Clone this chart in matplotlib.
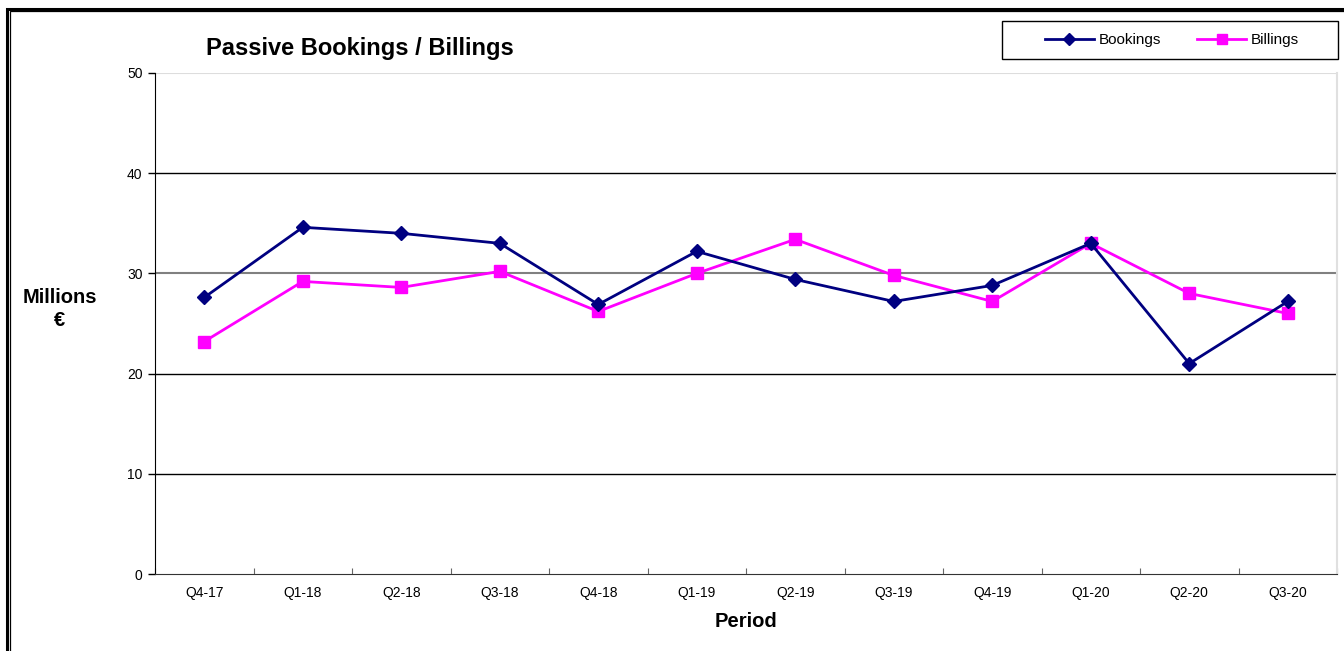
import matplotlib
matplotlib.use("Agg")
import matplotlib.pyplot as plt
from matplotlib.patches import Rectangle
from matplotlib.lines import Line2D

plt.rcParams["font.family"] = ["Liberation Sans", "DejaVu Sans"]

periods = ["Q4-17", "Q1-18", "Q2-18", "Q3-18", "Q4-18", "Q1-19",
           "Q2-19", "Q3-19", "Q4-19", "Q1-20", "Q2-20", "Q3-20"]
bookings = [27.6, 34.6, 34.0, 33.0, 26.9, 32.2, 29.4, 27.2, 28.8, 33.0, 21.0, 27.2]
billings = [23.2, 29.2, 28.6, 30.2, 26.2, 30.0, 33.4, 29.8, 27.2, 33.0, 28.0, 26.0]

NAVY = "#000080"
PINK = "#FF00FF"

W, H = 1344, 651
fig = plt.figure(figsize=(W / 100, H / 100), dpi=100)

# double frame round the chart area (runs off right/bottom edge)
fig.patches.append(Rectangle((6.5 / W, -0.05), 1.2, (H - 8.5) / H + 0.05,
                             transform=fig.transFigure, fill=False,
                             edgecolor="black", linewidth=2.2))
fig.patches.append(Rectangle((10 / W, -0.05), 1.2, (H - 11.5) / H + 0.05,
                             transform=fig.transFigure, fill=False,
                             edgecolor="black", linewidth=0.9))

ax = fig.add_axes([155 / W, 77 / H, (1337 - 155) / W, (574 - 73) / H])

x = list(range(len(periods)))
ax.plot(x, bookings, color=NAVY, lw=2, marker="D", ms=7.5, zorder=4, label="Bookings")
ax.plot(x, billings, color=PINK, lw=2, marker="s", ms=9, zorder=3, label="Billings")

ax.set_xlim(-0.5, len(periods) - 0.5)
ax.set_ylim(0, 50)

# gridlines
for v in [10, 20, 40]:
    ax.axhline(v, color="black", lw=1, zorder=1)
ax.axhline(30, color="#808080", lw=1.5, zorder=1)
ax.axhline(50, color="#dddddd", lw=1.5, zorder=1)

ax.spines["top"].set_visible(False)
ax.spines["right"].set_color("#e0e0e0")
ax.spines["right"].set_linewidth(1.5)
ax.spines["left"].set_color("black")
ax.spines["bottom"].set_color("#333333")

ax.set_yticks([0, 10, 20, 30, 40, 50])
ax.tick_params(axis="y", direction="out", length=5, width=1, labelsize=10, pad=4)

ax.set_xticks([i - 0.5 for i in range(len(periods) + 1)])
ax.set_xticklabels([])
ax.set_xticks(x, minor=True)
ax.set_xticklabels(periods, minor=True)
ax.tick_params(axis="x", which="major", direction="in", length=4, color="#666666")
ax.tick_params(axis="x", which="minor", length=0, labelsize=10, pad=9)

ax.set_xlabel("Period", fontsize=14.5, fontweight="bold", labelpad=8)
fig.text(60 / W, 1 - 309 / H, "Millions\n€", fontsize=14.5, fontweight="bold",
         ha="center", va="center", linespacing=1.25)

fig.text(206 / W, 1 - 49 / H, "Passive Bookings / Billings", fontsize=17,
         fontweight="bold", ha="left", va="center")

# legend box
fig.patches.append(Rectangle((1002 / W, 1 - 59 / H), 336 / W, 38 / H,
                             transform=fig.transFigure, fill=False,
                             edgecolor="black", linewidth=1))
handles = [Line2D([], [], color=NAVY, lw=2, marker="D", ms=6),
           Line2D([], [], color=PINK, lw=2, marker="s", ms=7)]
leg = fig.legend(handles, ["Bookings", "Billings"], ncol=2,
                 bbox_to_anchor=(1172 / W, 1 - 40 / H), loc="center",
                 fontsize=11, frameon=False,
                 handlelength=3.2, handletextpad=0.3, borderpad=0,
                 columnspacing=2.4, borderaxespad=0)

fig.savefig("out.png", dpi=100)
